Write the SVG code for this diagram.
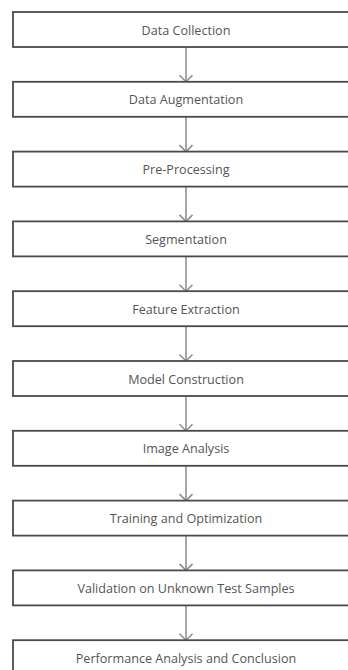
<svg xmlns="http://www.w3.org/2000/svg" width="348" height="670" viewBox="0 0 348 670">
<style>
.box{fill:#fff;stroke:#4a4a4a;stroke-width:1.8}
.lbl{font-family:"Open Sans","Noto Sans","DejaVu Sans",sans-serif;font-size:12.6px;fill:#555;text-anchor:middle;dominant-baseline:central}
.edge{fill:none;stroke:#8a8a8a;stroke-width:1.5}
</style>
<defs>
<marker id="ah" markerWidth="10" markerHeight="16" refX="8" refY="8" orient="auto" markerUnits="userSpaceOnUse" viewBox="0 0 10 16">
<path d="M1.5,1.5 L8,8 L1.5,14.5" fill="none" stroke="#8a8a8a" stroke-width="1.5"/>
</marker>
</defs>
<rect width="348" height="670" fill="#fff"/>
<g id="connectors">
<line class="edge" x1="186" y1="47" x2="186" y2="81.8" marker-end="url(#ah)"/>
<line class="edge" x1="186" y1="116.8" x2="186" y2="151.6" marker-end="url(#ah)"/>
<line class="edge" x1="186" y1="186.6" x2="186" y2="221.4" marker-end="url(#ah)"/>
<line class="edge" x1="186" y1="256.4" x2="186" y2="291.2" marker-end="url(#ah)"/>
<line class="edge" x1="186" y1="326.2" x2="186" y2="361" marker-end="url(#ah)"/>
<line class="edge" x1="186" y1="396" x2="186" y2="430.8" marker-end="url(#ah)"/>
<line class="edge" x1="186" y1="465.8" x2="186" y2="500.6" marker-end="url(#ah)"/>
<line class="edge" x1="186" y1="535.6" x2="186" y2="570.4" marker-end="url(#ah)"/>
<line class="edge" x1="186" y1="605.4" x2="186" y2="640.2" marker-end="url(#ah)"/>
</g>
<g id="n1"><rect class="box" x="13" y="12" width="346" height="35"/><text class="lbl" x="186" y="30">Data Collection</text></g>
<g id="n2"><rect class="box" x="13" y="81.8" width="346" height="35"/><text class="lbl" x="186" y="99.8">Data Augmentation</text></g>
<g id="n3"><rect class="box" x="13" y="151.6" width="346" height="35"/><text class="lbl" x="186" y="169.6">Pre-Processing</text></g>
<g id="n4"><rect class="box" x="13" y="221.4" width="346" height="35"/><text class="lbl" x="186" y="239.4">Segmentation</text></g>
<g id="n5"><rect class="box" x="13" y="291.2" width="346" height="35"/><text class="lbl" x="186" y="309.2">Feature Extraction</text></g>
<g id="n6"><rect class="box" x="13" y="361" width="346" height="35"/><text class="lbl" x="186" y="379">Model Construction</text></g>
<g id="n7"><rect class="box" x="13" y="430.8" width="346" height="35"/><text class="lbl" x="186" y="448.8">Image Analysis</text></g>
<g id="n8"><rect class="box" x="13" y="500.6" width="346" height="35"/><text class="lbl" x="186" y="518.6">Training and Optimization</text></g>
<g id="n9"><rect class="box" x="13" y="570.4" width="346" height="35"/><text class="lbl" x="186" y="588.4">Validation on Unknown Test Samples</text></g>
<g id="n10"><rect class="box" x="13" y="640.2" width="346" height="35"/><text class="lbl" x="186" y="658.2">Performance Analysis and Conclusion</text></g>
</svg>
